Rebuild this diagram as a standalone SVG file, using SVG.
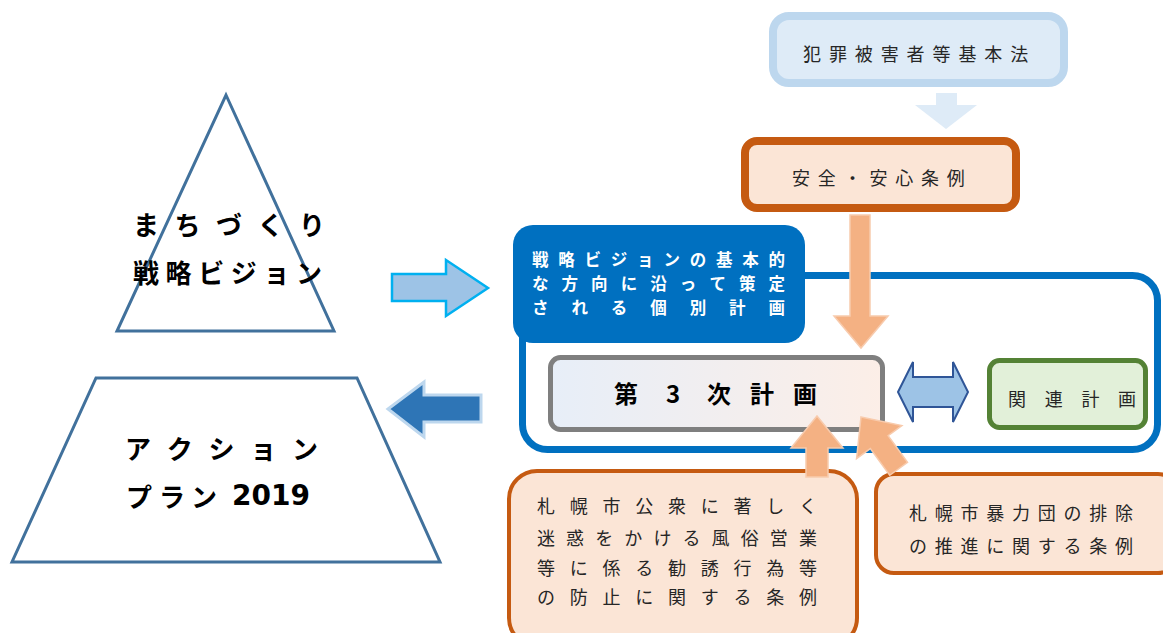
<svg xmlns="http://www.w3.org/2000/svg" width="1163" height="633" viewBox="0 0 1163 633">
<style>
.jp{font-family:"Noto Sans CJK JP","Noto Sans",sans-serif;dominant-baseline:central}
.reg{font-size:18px;fill:#262626}
.bl{font-size:16.5px;font-weight:bold;fill:#fff}
.big{font-size:26px;font-weight:bold;fill:#000}
.orbox{fill:#FBE5D6;stroke:#C55A11}
.oarrow{fill:#F4B183;stroke:#F8CBAD;stroke-width:1.5}
</style>
<defs>
<linearGradient id="g3" x1="0" y1="0" x2="1" y2="0">
<stop offset="0" stop-color="#E7EEF8"/>
<stop offset="1" stop-color="#FCEEE7"/>
</linearGradient>
</defs>
<rect width="1163" height="633" fill="#fff"/>

<g id="vision">
<polygon points="226,95 334,331 117,331" fill="none" stroke="#41719C" stroke-width="3"/>
<text class="jp big" y="223" x="133 174.5 216 257.5 299">まちづくり</text>
<text class="jp big" y="271" x="133 165.6 198.2 230.8 263.4 296">戦略ビジョン</text>
</g>

<g id="actionplan">
<polygon points="96,378 357,378 440,562 12,562" fill="none" stroke="#41719C" stroke-width="3"/>
<text class="jp big" y="447" x="125 166.75 208.5 250.25 292">アクション</text>
<text class="jp big" y="495" x="126 159 191">プラン</text>
<text x="232" y="505" font-family="DejaVu Sans,sans-serif" font-weight="bold" font-size="28" fill="#000">2019</text>
</g>

<g id="container">
<rect x="522.5" y="275.5" width="635" height="174" rx="25" fill="#fff" stroke="#0070C0" stroke-width="7"/>
</g>

<g id="label">
<rect x="513" y="225" width="292" height="118" rx="20" fill="#0070C0"/>
<text class="jp bl" y="259" x="532 558.3 584.6 610.8 637.1 663.4 689.7 715.9 742.2 768.5">戦略ビジョンの基本的</text>
<text class="jp bl" y="283" x="532 561.6 591.1 620.7 650.2 679.8 709.4 738.9 768.5">な方向に沿って策定</text>
<text class="jp bl" y="307" x="532 571.4 610.8 650.3 689.7 729.1 768.5">される個別計画</text>
</g>

<g id="law">
<rect x="773" y="16" width="291" height="67" rx="16" fill="#DEEBF7" stroke="#BDD7EE" stroke-width="8"/>
<text class="jp reg" y="53" x="803 828.9 854.8 880.7 906.6 932.5 958.4 984.3 1010.2">犯罪被害者等基本法</text>
</g>

<g id="anzen">
<rect x="745" y="141" width="271" height="67" rx="12" class="orbox" stroke-width="8"/>
<text class="jp reg" y="177" x="792 817.8 843.6 869.4 895.2 921 946.8">安全・安心条例</text>
</g>

<g id="plan3">
<rect x="550.5" y="357.5" width="332" height="72" rx="10" fill="url(#g3)" stroke="#7F7F7F" stroke-width="5"/>
<text class="jp" y="392" font-size="24" font-weight="bold" fill="#000" x="614 666 707 750 793">第3次計画</text>
</g>

<g id="related">
<rect x="989.5" y="360.5" width="156" height="67" rx="10" fill="#E2F0D9" stroke="#548235" stroke-width="5"/>
<text class="jp reg" y="398" x="1008 1044.7 1081.4 1118">関連計画</text>
</g>

<g id="fuzoku">
<rect x="509" y="471" width="348" height="175" rx="28" class="orbox" stroke-width="4"/>
<text class="jp reg" y="505" x="537 569.75 602.5 635.25 668 700.75 733.5 766.25 799">札幌市公衆に著しく</text>
<text class="jp reg" y="537" x="537 566.1 595.2 624.3 653.4 682.5 711.6 740.7 769.8 799">迷惑をかける風俗営業</text>
<text class="jp reg" y="567" x="537 569.75 602.5 635.25 668 700.75 733.5 766.25 799">等に係る勧誘行為等</text>
<text class="jp reg" y="596" x="537 569.75 602.5 635.25 668 700.75 733.5 766.25 799">の防止に関する条例</text>
</g>

<g id="boryokudan">
<rect x="876" y="474" width="300" height="99" rx="18" class="orbox" stroke-width="4"/>
<text class="jp reg" y="512" x="909 934.75 960.5 986.25 1012 1037.75 1063.5 1089.25 1115">札幌市暴力団の排除</text>
<text class="jp reg" y="545" x="909 934.75 960.5 986.25 1012 1037.75 1063.5 1089.25 1115">の推進に関する条例</text>
</g>

<g id="connectors">
<path d="M392,274 H446 V260 L488,288 L446,316 V301 H392 Z" fill="#9DC3E6" stroke="#00B0F0" stroke-width="2.5"/>
<path d="M388,409 L424,382 V395 H481 V422 H424 V437 Z" fill="#2E75B6" stroke="#BDD7EE" stroke-width="3"/>
<path d="M936,93 H957 V105 H977 L946,129 L915,105 H936 Z" fill="#DEEBF7"/>
<path d="M850,215 H870 V316 H888 L861,348 L834,316 H850 Z" class="oarrow"/>
<path d="M817,416 L843,448 H828 V477 H806 V448 H791 Z" class="oarrow"/>
<path d="M0,0 L28,31 H11 V64 H-11 V31 H-28 Z" transform="translate(861,417) rotate(-36)" class="oarrow"/>
<path d="M898,392 L913,362 V377 H953 V362 L968,392 L953,422 V407 H913 V422 Z" fill="#9DC3E6" stroke="#2F5597" stroke-width="2"/>
</g>
</svg>
